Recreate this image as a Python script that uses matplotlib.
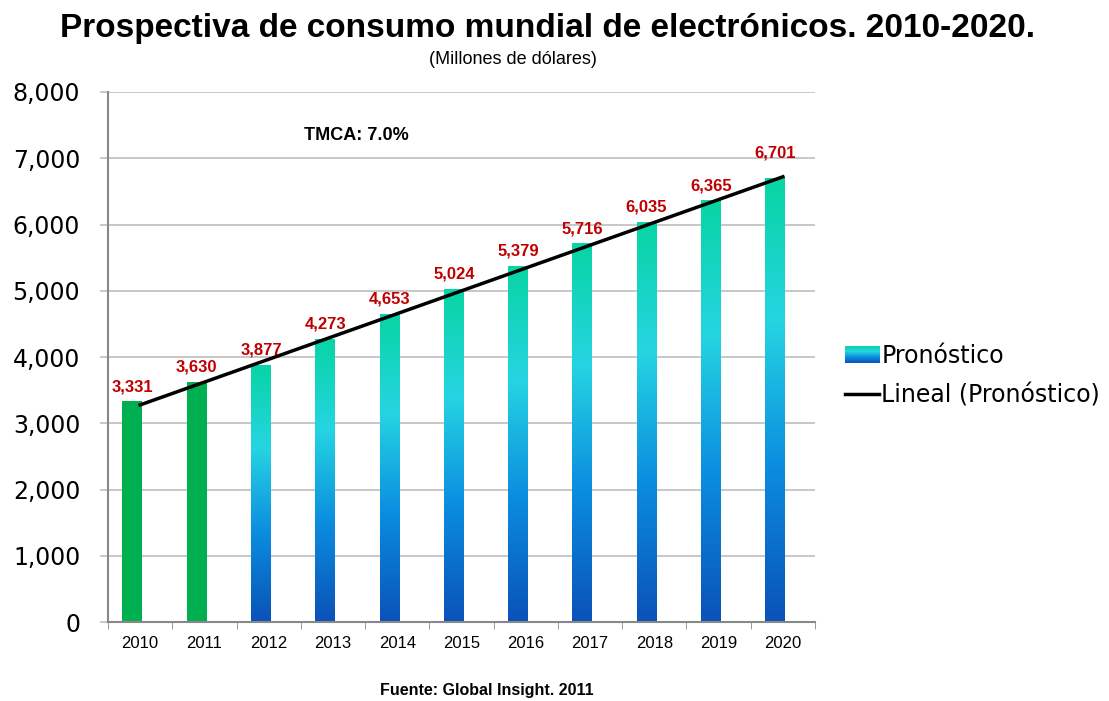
import numpy as np
import matplotlib
matplotlib.use("Agg")
import matplotlib.pyplot as plt
from matplotlib.colors import LinearSegmentedColormap
from matplotlib.patches import Rectangle
from matplotlib.lines import Line2D
from matplotlib.legend_handler import HandlerBase
from matplotlib.image import BboxImage

plt.rcParams['font.family'] = ['Liberation Sans', 'DejaVu Sans']

years = ['2010', '2011', '2012', '2013', '2014', '2015', '2016', '2017', '2018', '2019', '2020']
values = [3331, 3630, 3877, 4273, 4653, 5024, 5379, 5716, 6035, 6365, 6701]
n_real = 2  # first bars are actual data (green), rest are forecast

GREEN = '#00b050'
RED = '#c00000'
grad = LinearSegmentedColormap.from_list(
    'pron', [(0.0, '#0a52b8'), (0.35, '#0b8de0'), (0.68, '#25d5e2'), (1.0, '#08d4a4')])

fig = plt.figure(figsize=(11.09, 7.01), dpi=100)
ax = fig.add_axes([108 / 1109, 1 - 622 / 701, 707 / 1109, 530 / 701])

x = np.arange(len(years))
width = 0.31
shift = -0.12  # bars sit a bit left of the category centre
bars = ax.bar(x + shift, values, width=width, color=GREEN, zorder=2)
gimg = np.linspace(0, 1, 256).reshape(-1, 1)
for i, b in enumerate(bars):
    if i < n_real:
        continue
    b.set_facecolor('none')
    im = ax.imshow(gimg, cmap=grad, origin='lower', aspect='auto', zorder=2,
                   extent=[b.get_x(), b.get_x() + b.get_width(), 0, b.get_height()])
    im.set_clip_path(b)

# linear trend line
coef = np.polyfit(x, values, 1)
ax.plot(x, np.polyval(coef, x), color='black', lw=2.5, zorder=3)

for i, (xi, v) in enumerate(zip(x, values)):
    off = 110 if i < len(values) - 1 else 270  # last label sits clear of the trend line
    ax.text(xi + shift, v + off, f'{v:,}', ha='center', va='bottom', color=RED,
            fontsize=12, fontweight='bold', zorder=4)

ax.set_xlim(-0.5, len(years) - 0.5)
ax.set_ylim(0, 8000)
ax.set_yticks(np.arange(0, 8001, 1000))
ax.set_yticklabels([f'{t:,}' for t in range(0, 8001, 1000)], fontsize=17,
                   family='DejaVu Sans')
ax.set_xticks(x)
ax.set_xticklabels(years, fontsize=12)
ax.set_xticks(np.arange(-0.5, len(years), 1), minor=True)
ax.tick_params(axis='x', which='major', length=0, pad=10)
ax.tick_params(axis='x', which='minor', length=5, color='#888888')
ax.tick_params(axis='y', length=6, color='#c0c0c0', width=1.2, pad=14)
ax.grid(axis='y', color='#bdbdbd', lw=1.2, zorder=0)
ax.set_axisbelow(True)
for s in ['top', 'right']:
    ax.spines[s].set_visible(False)
for s in ['left', 'bottom']:
    ax.spines[s].set_color('#888888')
    ax.spines[s].set_linewidth(1.5)

ax.text(3.37, 7350, 'TMCA: 7.0%', fontsize=13, fontweight='bold', ha='center', va='center')

fig.text(548 / 1109, 1 - 29 / 701, 'Prospectiva de consumo mundial de electrónicos. 2010-2020.',
         ha='center', va='center', fontsize=24, fontweight='bold')
fig.text(513 / 1109, 1 - 59 / 701, '(Millones de dólares)', ha='center', va='center', fontsize=13)
fig.text(487 / 1109, 1 - 690 / 701, 'Fuente: Global Insight. 2011', ha='center', va='center',
         fontsize=11.5, fontweight='bold')


class GradHandler(HandlerBase):
    def create_artists(self, legend, orig, xd, yd, w, h, fontsize, trans):
        r = Rectangle((xd, yd), w, h, transform=trans, facecolor='none', edgecolor='none')
        im = BboxImage(r.get_window_extent, cmap=grad, origin='lower')
        im.set_data(gimg)
        return [im]


proxy = Rectangle((0, 0), 1, 1)
line_h = Line2D([], [], color='black', lw=2.5)
fig.legend([proxy, line_h], ['Pronóstico', 'Lineal (Pronóstico)'],
           handler_map={Rectangle: GradHandler()},
           loc='center left', bbox_to_anchor=(824 / 1109, 1 - 376 / 701),
           frameon=False, handlelength=1.45, handletextpad=0.08,
           labelspacing=0.65, prop={'family': 'DejaVu Sans', 'size': 17})

fig.savefig('out.png', dpi=100)
